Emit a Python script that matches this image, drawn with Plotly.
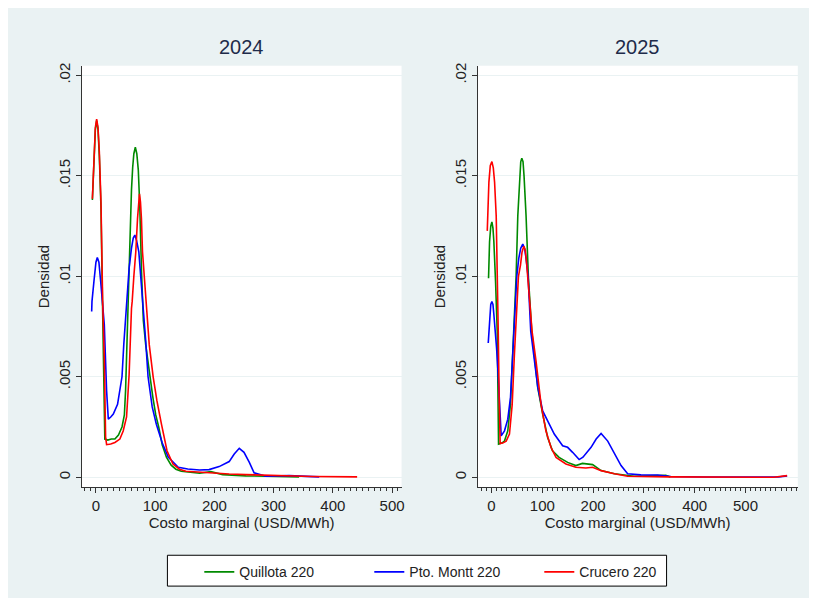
import plotly.graph_objects as go

# ---- 2024 densities (x = USD/MWh, y = density)
x24_quillota = [-6, -3.3, -1, 1.2, 3.5, 5.7, 8.5, 11, 13.5, 15, 20, 26, 32, 38, 44, 48, 50, 52, 54, 56, 58, 60, 62, 64,
                66.5, 69, 71.5, 74, 77, 80, 84, 88, 91, 96, 101, 106, 112, 119, 127, 135, 144, 160, 175, 194, 214, 253,
                300, 343]
y24_quillota = [0.0138, 0.0161, 0.0173, 0.01775, 0.0173, 0.0160, 0.0134, 0.0088, 0.0055, 0.0019, 0.00185, 0.0019,
                0.0019, 0.0021, 0.0025, 0.0031, 0.0043, 0.0064, 0.0088, 0.0104, 0.0125, 0.0143, 0.0154, 0.0161,
                0.01642, 0.0161, 0.0153, 0.0135, 0.0102, 0.0078, 0.0066, 0.0057, 0.0050, 0.0040, 0.0031, 0.0025,
                0.0016, 0.0010, 0.0006, 0.0004, 0.0003, 0.00024, 0.0002, 0.00028, 0.00013, 0.00007, 0.00004,
                0.00002]

x24_montt = [-7.2, -6.7, -3.4, 0, 2.3, 5, 8, 10.8, 14.1, 18, 20.9, 25, 29.3, 36.5, 42, 44, 47, 50, 53, 56, 60, 63,
             65.7, 68.5, 72.4, 75.8, 79.8, 84, 88, 95, 102, 112, 122, 139, 155, 175, 191, 208, 225, 233.5, 242, 250,
             259, 267, 287, 326, 377]
y24_montt = [0.00825, 0.00875, 0.00974, 0.0107, 0.01094, 0.0107, 0.00974, 0.00875, 0.0076, 0.0043, 0.00289, 0.0030,
             0.00314, 0.00363, 0.0046, 0.0050, 0.0066, 0.0080, 0.0093, 0.0104, 0.0114, 0.0119, 0.01205, 0.0118,
             0.01122, 0.0100, 0.00875, 0.0068, 0.0050, 0.0035, 0.00264, 0.0017, 0.0010, 0.0005, 0.00041, 0.00036,
             0.00038, 0.00053, 0.00078, 0.00116, 0.00144, 0.00124, 0.00074, 0.00022, 0.00005, 0.00008, 0.00002]

x24_crucero = [-6, -3.3, -1, 1.2, 3.5, 5.7, 8.5, 11.3, 14.1, 16.3, 18, 25, 32, 40.4, 46, 51.7, 56, 60, 61.2, 64, 67.3,
               70.2, 71.8, 73.5, 75.2, 76.8, 78.6, 81.4, 84.2, 90, 96.6, 103, 110.6, 120, 130, 141, 152, 175, 197, 225,
               253, 309, 365, 441]
y24_crucero = [0.01386, 0.0162, 0.0174, 0.01782, 0.0174, 0.0162, 0.0137, 0.0088, 0.0059, 0.0020, 0.00162, 0.00165,
               0.00173, 0.0019, 0.0023, 0.0030, 0.0051, 0.0084, 0.00875, 0.0100, 0.01122, 0.01287, 0.0137, 0.01411,
               0.0137, 0.01287, 0.01122, 0.0100, 0.00875, 0.0066, 0.0050, 0.0038, 0.00264, 0.00132, 0.00066, 0.0004,
               0.0003, 0.00025, 0.0002, 0.00016, 0.00013, 0.00007, 0.00004, 0.00002]

# ---- 2025 densities
x25_quillota = [-5.9, -3.9, -1.5, 0.7, 2.8, 4.6, 7.9, 11.2, 13.8, 20, 25.5, 32, 37.3, 42, 43.9, 45, 48.4, 51.7, 55,
                57.5, 59.6, 62, 64, 68, 72.5, 75, 79.2, 85, 91, 100.7, 110.5, 120, 133, 149.8, 166, 179, 199, 215.7,
                242, 281, 310, 333, 343, 352]
y25_quillota = [0.0099, 0.01172, 0.0125, 0.01271, 0.0124, 0.01172, 0.00974, 0.00726, 0.00165, 0.0017, 0.0018,
                0.00231, 0.00363, 0.0061, 0.00726, 0.0078, 0.0100, 0.0130, 0.0150, 0.0157, 0.01588, 0.0157, 0.0150,
                0.0130, 0.0100, 0.0088, 0.00726, 0.0059, 0.00446, 0.00314, 0.00198, 0.00132, 0.00099, 0.00074,
                0.00058, 0.00069, 0.00063, 0.00033, 0.00017, 0.00005, 0.00006, 0.0001, 0.0001, 0.00001]

x25_montt = [-6.5, -3.9, -1.5, 0.7, 2.8, 4.6, 7, 10, 13, 16, 19, 25.5, 32, 37.3, 42, 44, 45, 49.7, 53.6, 57.5,
             61.5, 65, 68, 72, 77.2, 84, 91, 100.7, 110.5, 123.5, 140, 149.8, 159.6, 172.5, 180, 196, 206, 215.7,
             228.8, 242, 255, 268, 294, 327, 353, 420, 500, 565, 582]
y25_montt = [0.00668, 0.00792, 0.0086, 0.00875, 0.0086, 0.0081, 0.0074, 0.0064, 0.0051, 0.0035, 0.00206,
             0.00231, 0.00289, 0.00396, 0.0061, 0.00726, 0.0078, 0.0100, 0.01089, 0.0114, 0.0116, 0.0114, 0.01089,
             0.0100, 0.00726, 0.0059, 0.0045, 0.0033, 0.00281, 0.00215, 0.00157, 0.00149, 0.00124, 0.00088, 0.0010,
             0.00149, 0.0019, 0.00218, 0.0018, 0.00116, 0.00058, 0.00017, 0.00012, 0.00011, 0.00004, 0.00001,
             0.00001, 0.00001, 0.00007]

x25_crucero = [-8.4, -5.2, -2.5, 0.7, 3.5, 6, 9.2, 11.2, 13.2, 15, 17, 22, 28.8, 35.3, 40.6, 45, 48.4, 53, 57, 60,
               63.5, 66.5, 69.4, 74, 77.8, 79.8, 87.6, 97.5, 107, 117, 127, 146.5, 166, 185.7, 199, 215.7, 242, 268,
               350, 450, 555.6, 582]
y25_crucero = [0.01226, 0.01469, 0.0155, 0.01571, 0.0154, 0.01469, 0.0130, 0.01056, 0.00726, 0.0040, 0.00168,
               0.0017, 0.0018, 0.00215, 0.0036, 0.0061, 0.00776, 0.0100, 0.01056, 0.0112, 0.0115, 0.0113, 0.01056,
               0.0090, 0.00776, 0.00726, 0.00578, 0.00363, 0.00231, 0.00149, 0.00099, 0.00066, 0.0005, 0.00046,
               0.0005, 0.00033, 0.00017, 0.00005, 0.00002, 0.00002, 0.0, 0.00008]

series_names = ["Quillota 220", "Pto. Montt 220", "Crucero 220"]
series_colors = ["#008a00", "#0000ff", "#ff0000"]
panel_titles = ["2024", "2025"]
ytick_vals = [0, 0.005, 0.01, 0.015, 0.02]
ytick_text = ["0", ".005", ".01", ".015", ".02"]
xtick_vals = [0, 100, 200, 300, 400, 500]

W, H = 817, 598
OFF = 8  # page body margin, positions below are read in screen pixels
FONT = "Liberation Sans, Arial, sans-serif"
BG = "#eaf2f3"

fig = go.Figure()

data24 = [(x24_quillota, y24_quillota), (x24_montt, y24_montt), (x24_crucero, y24_crucero)]
data25 = [(x25_quillota, y25_quillota), (x25_montt, y25_montt), (x25_crucero, y25_crucero)]

for i, (xs, ys) in enumerate(data24):
    fig.add_trace(go.Scatter(x=xs, y=ys, mode="lines", name=series_names[i],
                             line=dict(color=series_colors[i], width=1.6),
                             xaxis="x", yaxis="y", legendgroup=series_names[i]))
for i, (xs, ys) in enumerate(data25):
    fig.add_trace(go.Scatter(x=xs, y=ys, mode="lines", name=series_names[i],
                             line=dict(color=series_colors[i], width=1.6),
                             xaxis="x2", yaxis="y2", legendgroup=series_names[i], showlegend=False))

# ---- screen pixel -> paper fraction
def px(x):
    return (x - OFF) / W

def py(y):
    return 1 - (y - OFF) / H

xaxis_common = dict(
    showline=True, linecolor="#333", linewidth=1,
    ticks="outside", ticklen=5, tickcolor="#333",
    tickvals=xtick_vals, showgrid=False, zeroline=False,
    tickfont=dict(family=FONT, size=15, color="#222"),
    title=dict(text="Costo marginal (USD/MWh)", font=dict(family=FONT, size=15, color="#222"), standoff=4),
    minor=dict(dtick=10, ticks="outside", ticklen=3, tickcolor="#333", showgrid=False),
)
yaxis_common = dict(
    showline=True, linecolor="#333", linewidth=1,
    ticks="outside", ticklen=5, tickcolor="#333",
    tickvals=ytick_vals, ticktext=ytick_text, tickangle=-90,
    showgrid=True, gridcolor=BG, gridwidth=1, zeroline=False,
    range=[-0.0005, 0.02048],
    tickfont=dict(family=FONT, size=15, color="#222"),
    title=dict(text="Densidad", font=dict(family=FONT, size=15, color="#222"), standoff=2),
)

fig.update_layout(
    width=W, height=H, autosize=False,
    margin=dict(l=0, r=0, t=0, b=0),
    paper_bgcolor=BG, plot_bgcolor="white",
    font=dict(family=FONT, color="#222"),
    xaxis=dict(xaxis_common, domain=[px(82), px(403)], range=[-24, 516], anchor="y"),
    yaxis=dict(yaxis_common, domain=[py(486.7), py(63)], anchor="x"),
    xaxis2=dict(xaxis_common, domain=[px(479.3), px(800.7)], range=[-27.5, 603], anchor="y2"),
    yaxis2=dict(yaxis_common, domain=[py(486.7), py(63)], anchor="x2"),
    showlegend=True,
    legend=dict(
        orientation="h", x=px(200), y=py(556), xanchor="left", yanchor="top",
        bgcolor="rgba(0,0,0,0)", borderwidth=0,
        font=dict(family=FONT, size=14, color="#222"),
        entrywidth=125, entrywidthmode="pixels",
        traceorder="normal",
    ),
    annotations=[
        dict(text=panel_titles[0], x=px(242.5), y=py(44), xref="paper", yref="paper",
             xanchor="center", yanchor="middle",
             showarrow=False, font=dict(family=FONT, size=20, color="#1e2b4a")),
        dict(text=panel_titles[1], x=px(640), y=py(44), xref="paper", yref="paper",
             xanchor="center", yanchor="middle",
             showarrow=False, font=dict(family=FONT, size=20, color="#1e2b4a")),
    ],
    shapes=[
        # legend box
        dict(type="rect", xref="paper", yref="paper", x0=px(168), x1=px(669), y0=py(586), y1=py(555),
             fillcolor="white", line=dict(color="black", width=1), layer="above"),
    ],
)

fig.write_html("out.html")
